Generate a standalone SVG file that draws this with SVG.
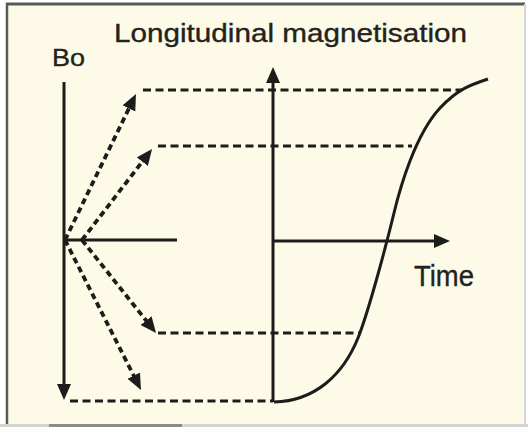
<svg xmlns="http://www.w3.org/2000/svg" width="528" height="427" viewBox="0 0 528 427">
<defs>
<style>
.solid{stroke:#1c1c1a;stroke-width:3;fill:none}
.dash{stroke:#1c1c1a;stroke-width:3;fill:none;stroke-dasharray:8 4.5}
.darr{stroke:#1c1c1a;stroke-width:3.8;fill:none;stroke-dasharray:6 4}
.lbl{font-family:"Liberation Sans",Arial,sans-serif;fill:#222220;stroke:#222220;stroke-width:0.35}
</style>
<marker id="ah" markerUnits="userSpaceOnUse" markerWidth="20" markerHeight="16" refX="1" refY="7" orient="auto">
<path d="M0,0 L16,7 L0,14 Z" fill="#1c1c1a"/>
</marker>
</defs>
<rect x="0" y="0" width="528" height="427" fill="#ffffff"/>
<rect x="7" y="4" width="517" height="420" fill="#fdfbe7"/>
<g id="frame">
<line x1="6" y1="4" x2="525" y2="4" stroke="#5a5a58" stroke-width="3"/>
<line x1="7" y1="3" x2="7" y2="425" stroke="#5a5a58" stroke-width="2.5"/>
<line x1="525" y1="4" x2="525" y2="425" stroke="#d8d8d4" stroke-width="2"/>
<line x1="0" y1="425.5" x2="528" y2="425.5" stroke="#d4d4d0" stroke-width="3"/>
<line x1="49" y1="425.5" x2="182" y2="425.5" stroke="#8a8a88" stroke-width="3"/>
</g>
<g id="title"><text class="lbl" x="114" y="42" font-size="26" textLength="353" lengthAdjust="spacingAndGlyphs">Longitudinal magnetisation</text></g>
<g id="bo"><text class="lbl" x="52" y="66" font-size="24" textLength="33" lengthAdjust="spacingAndGlyphs">Bo</text></g>
<g id="time"><text class="lbl" x="414" y="286" font-size="29" textLength="60" lengthAdjust="spacingAndGlyphs">Time</text></g>
<g id="connectors">
<line class="solid" x1="64" y1="82" x2="64" y2="385" marker-end="url(#ah)"/>
<line class="solid" x1="64" y1="240" x2="177" y2="240"/>
<line class="solid" x1="273" y1="402" x2="273" y2="82" marker-end="url(#ah)"/>
<line class="solid" x1="273" y1="241" x2="435" y2="241" marker-end="url(#ah)"/>
<line class="darr" x1="65" y1="240" x2="129.4" y2="107.5" marker-end="url(#ah)"/>
<line class="darr" x1="82" y1="240" x2="142.9" y2="160.9" marker-end="url(#ah)"/>
<line class="darr" x1="82" y1="240" x2="146.7" y2="321.3" marker-end="url(#ah)"/>
<line class="darr" x1="65" y1="240" x2="134.2" y2="376.6" marker-end="url(#ah)"/>
<line class="dash" x1="143" y1="90" x2="462" y2="90"/>
<line class="dash" x1="158" y1="146" x2="412" y2="146"/>
<line class="dash" x1="158" y1="333" x2="361" y2="333"/>
<line class="dash" x1="70" y1="401" x2="273" y2="401"/>
<path class="solid" stroke-width="2.5" d="M274,402 C315,401 343,375 358,338 C368,313 385,250 394,213 C400,188 415,135 440,108 C458,89 470,85 488,79"/>
</g>
</svg>
